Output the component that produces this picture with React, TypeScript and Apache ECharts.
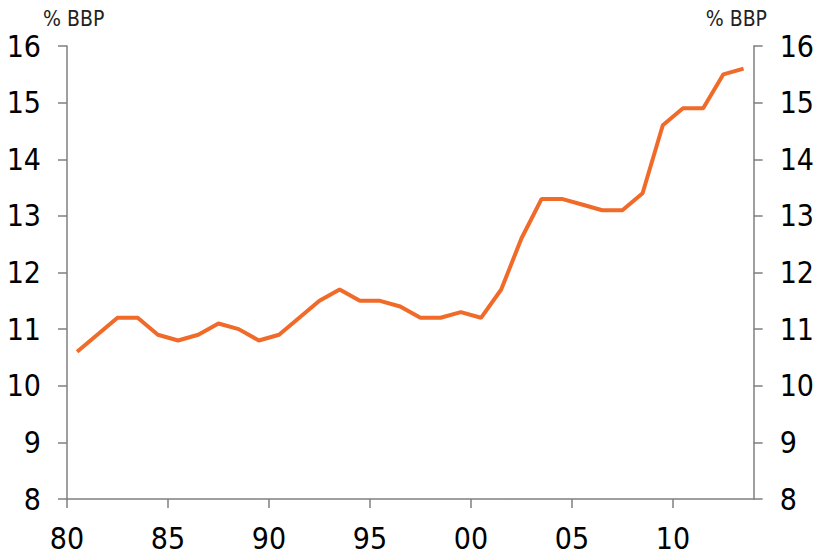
import React, { useEffect, useRef } from "react";
import * as echarts from "echarts";

const years = [
  1980, 1981, 1982, 1983, 1984, 1985, 1986, 1987, 1988, 1989,
  1990, 1991, 1992, 1993, 1994, 1995, 1996, 1997, 1998, 1999,
  2000, 2001, 2002, 2003, 2004, 2005, 2006, 2007, 2008, 2009,
  2010, 2011, 2012, 2013,
];
const values = [
  10.6, 10.9, 11.2, 11.2, 10.9, 10.8, 10.9, 11.1, 11.0, 10.8,
  10.9, 11.2, 11.5, 11.7, 11.5, 11.5, 11.4, 11.2, 11.2, 11.3,
  11.2, 11.7, 12.6, 13.3, 13.3, 13.2, 13.1, 13.1, 13.4, 14.6,
  14.9, 14.9, 15.5, 15.6,
];
const xTicks = [1980, 1985, 1990, 1995, 2000, 2005, 2010];
const unitLabel = "% BBP";

const FONT = "'Liberation Sans Narrow', 'DejaVu Sans Condensed', sans-serif";
const AXIS_COLOR = "#7f7f7f";

export default function App() {
  const ref = useRef<HTMLDivElement>(null);
  useEffect(() => {
    if (!ref.current) return;
    const chart = echarts.init(ref.current, undefined, { renderer: "svg" });
    const yAxisBase = {
      type: "value" as const,
      min: 8,
      max: 16,
      interval: 1,
      splitLine: { show: false },
      axisLine: { show: true, lineStyle: { color: AXIS_COLOR, width: 1.5 } },
      axisTick: { show: true, length: 9, lineStyle: { color: AXIS_COLOR, width: 1.5 } },
      axisLabel: { color: "#000", fontSize: 30, fontFamily: FONT, margin: 26 },
    };
    chart.setOption({
      animation: false,
      grid: { left: 67, right: 57, top: 46, bottom: 57, containLabel: false },
      xAxis: {
        type: "value",
        min: 1980,
        max: 2014,
        interval: 5,
        splitLine: { show: false },
        axisLine: { show: true, onZero: false, lineStyle: { color: AXIS_COLOR, width: 1.5 } },
        axisTick: {
          show: true,
          length: 9,
          customValues: xTicks,
          lineStyle: { color: AXIS_COLOR, width: 1.5 },
        },
        axisLabel: {
          color: "#000",
          fontSize: 30,
          fontFamily: FONT,
          margin: 24,
          customValues: xTicks,
          formatter: (v: number) => String(v % 100).padStart(2, "0"),
        },
      },
      yAxis: [
        { ...yAxisBase, position: "left" },
        { ...yAxisBase, position: "right" },
      ],
      graphic: [
        {
          type: "text",
          left: 43,
          top: 8,
          style: { text: unitLabel, fontSize: 21, fontFamily: FONT, fill: "#222" },
        },
        {
          type: "text",
          right: 50,
          top: 8,
          style: { text: unitLabel, fontSize: 21, fontFamily: FONT, fill: "#222" },
        },
      ],
      series: [
        {
          type: "line",
          yAxisIndex: 0,
          data: years.map((y, i) => [y + 0.5, values[i]]),
          showSymbol: false,
          symbol: "none",
          lineStyle: { color: "#F06A2A", width: 4 },
        },
      ],
    });
    return () => chart.dispose();
  }, []);
  return (
    <div
      ref={ref}
      style={{ position: "fixed", left: 0, top: 0, width: 817, height: 556, background: "#fff" }}
    />
  );
}
